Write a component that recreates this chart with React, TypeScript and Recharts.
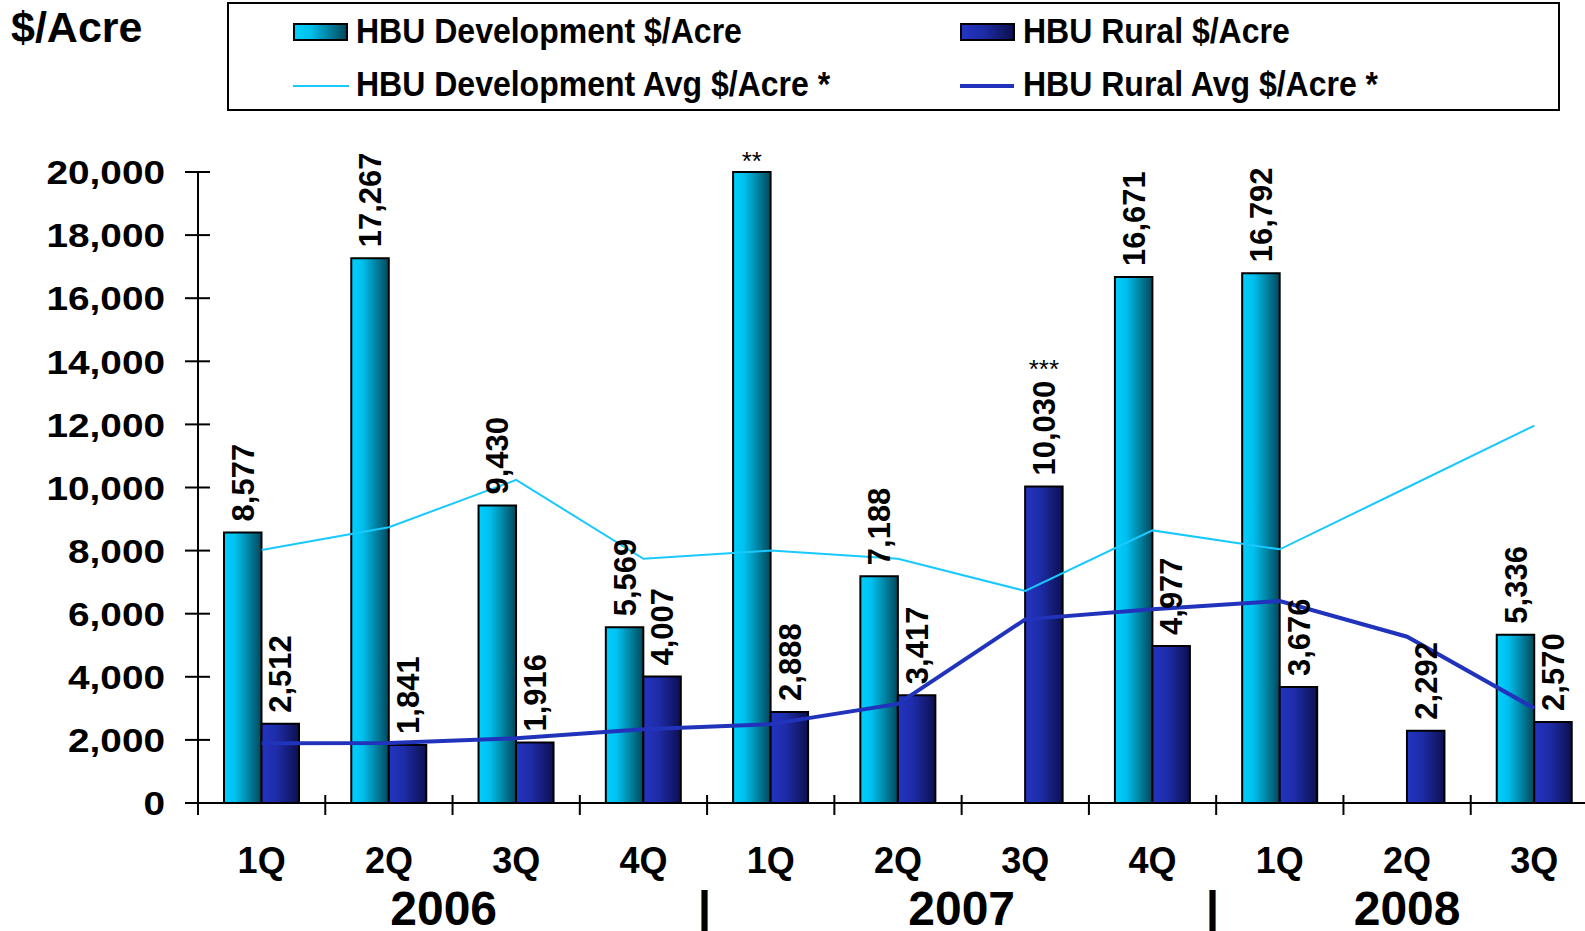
import { Bar, ComposedChart, LabelList, Line, XAxis, YAxis } from 'recharts'

const quarters = ['1Q', '2Q', '3Q', '4Q', '1Q', '2Q', '3Q', '4Q', '1Q', '2Q', '3Q']
const devPerAcre = [8577, 17267, 9430, 5569, 20000, 7188, null, 16671, 16792, null, 5336]
const ruralPerAcre = [2512, 1841, 1916, 4007, 2888, 3417, 10030, 4977, 3676, 2292, 2570]
const devAvgPerAcre = [8020, 8740, 10240, 7740, 8000, 7740, 6720, 8640, 8040, 10000, 11960]
const ruralAvgPerAcre = [1890, 1900, 2050, 2340, 2500, 3140, 5820, 6140, 6400, 5270, 3000]
// footnote marks printed above a bar ("**" replaces the value of the capped bar)
const devNotes = ['', '', '', '', '**', '', '', '', '', '', '']
const ruralNotes = ['', '', '', '', '', '', '***', '', '', '', '']
const yearLabels = ['2006', '|', '2007', '|', '2008']
const yTicks = [0, 2000, 4000, 6000, 8000, 10000, 12000, 14000, 16000, 18000, 20000]

// where each year label sits, in category units (index + fraction of band)
const yearSlots = [1.43, 3.48, 5.5, 7.47, 9]

const FONT = "'Liberation Sans', Arial, Helvetica, sans-serif"
const CHART_W = 1612
const CHART_H = 931
const MARGIN = { top: 172, right: 14, bottom: 0, left: 0 }
const Y_AXIS_W = 198
const BAND_HALF = (CHART_W - MARGIN.right - MARGIN.left - Y_AXIS_W) / quarters.length / 2

const data = quarters.map((quarter, i) => ({
  quarter,
  dev: devPerAcre[i],
  rural: ruralPerAcre[i],
  devAvg: devAvgPerAcre[i],
  ruralAvg: ruralAvgPerAcre[i],
}))

const numberFormatter = new Intl.NumberFormat('en-US')

const LABEL_SIZE = 31
function textEm(s: string) {
  let em = 0
  for (const ch of s) em += ch === ',' ? 0.278 : 0.556
  return em
}

function makeBarLabel(notes: string[], noteReplacesValue: boolean) {
  return function BarLabel(props: any) {
    const { x, y, width, value, index } = props
    if (value == null) return null
    const cx = Number(x) + Number(width) / 2
    const top = Number(y)
    const note = notes[index] ?? ''
    if (note && noteReplacesValue) {
      return (
        <text x={cx} y={top - 2} textAnchor="middle" fontSize={26} fontFamily={FONT} fill="#000">
          {note}
        </text>
      )
    }
    const text = numberFormatter.format(Number(value))
    const start = top - 11
    const len = textEm(text) * LABEL_SIZE
    return (
      <g>
        <text
          transform={`translate(${cx},${start}) rotate(-90)`}
          dy="0.36em"
          textAnchor="start"
          fontSize={LABEL_SIZE}
          fontWeight="bold"
          fontFamily={FONT}
          fill="#000"
        >
          {text}
        </text>
        {note ? (
          <text x={cx} y={start - len - 3} textAnchor="middle" fontSize={26} fontFamily={FONT} fill="#000">
            {note}
          </text>
        ) : null}
      </g>
    )
  }
}

function YTick(props: any) {
  const { x, y, payload } = props
  return (
    <g>
      <line x1={x - 13} x2={x + 12} y1={y} y2={y} stroke="#000" strokeWidth={2} />
      <text
        transform={`translate(${x - 33},${y}) scale(1.14,1)`}
        dy="0.36em"
        textAnchor="end"
        fontSize={34}
        fontWeight="bold"
        fontFamily={FONT}
        fill="#000"
      >
        {numberFormatter.format(payload.value)}
      </text>
    </g>
  )
}

function XTick(props: any) {
  const { x, y, payload, index } = props
  const half = payload?.offset || BAND_HALF
  const isLast = index === quarters.length - 1
  return (
    <g>
      <line x1={x - half} x2={x - half} y1={y - 8} y2={y + 12} stroke="#000" strokeWidth={2} />
      {isLast ? <line x1={x + half} x2={x + half} y1={y - 8} y2={y + 12} stroke="#000" strokeWidth={2} /> : null}
      <text x={x} y={y + 70} textAnchor="middle" fontSize={36} fontWeight="bold" fontFamily={FONT} fill="#000">
        {payload.value}
      </text>
      {yearSlots.map((slot, i) =>
        Math.floor(slot) === index ? (
          <text
            key={i}
            x={x + (slot - index) * 2 * half}
            y={y + 122}
            textAnchor="middle"
            fontSize={48}
            fontWeight="bold"
            fontFamily={FONT}
            fill="#000"
          >
            {yearLabels[i]}
          </text>
        ) : null,
      )}
    </g>
  )
}

const devGradient = 'linear-gradient(to right, #00CFFF 0%, #00C0EE 30%, #00485A 100%)'
const ruralGradient = 'linear-gradient(to right, #2235C2 0%, #1E2CA8 40%, #0C1050 100%)'

function LegendBox() {
  const text: React.CSSProperties = {
    position: 'absolute',
    fontSize: 32,
    fontWeight: 'bold',
    fontFamily: FONT,
    lineHeight: '32px',
    whiteSpace: 'nowrap',
    color: '#000',
    transform: 'scaleY(1.08)',
    transformOrigin: 'left center',
  }
  const swatch: React.CSSProperties = {
    position: 'absolute',
    width: 55,
    height: 18,
    border: '2px solid #000',
    boxSizing: 'border-box',
  }
  return (
    <div
      style={{
        position: 'absolute',
        left: 227,
        top: 2,
        width: 1333,
        height: 109,
        border: '2px solid #000',
        boxSizing: 'border-box',
        background: '#fff',
      }}
    >
      <div style={{ ...swatch, left: 64, top: 19, background: devGradient }} />
      <div style={{ ...text, left: 127, top: 11 }}>HBU Development $/Acre</div>
      <div style={{ ...swatch, left: 731, top: 19, background: ruralGradient }} />
      <div style={{ ...text, left: 794, top: 11 }}>HBU Rural $/Acre</div>
      <div style={{ position: 'absolute', left: 64, top: 81, width: 56, height: 2, background: '#19C8FF' }} />
      <div style={{ ...text, left: 127, top: 64 }}>HBU Development Avg $/Acre *</div>
      <div style={{ position: 'absolute', left: 731, top: 80, width: 54, height: 4, background: '#2233BB' }} />
      <div style={{ ...text, left: 794, top: 64 }}>HBU Rural Avg $/Acre *</div>
    </div>
  )
}

export default function App() {
  return (
    <div
      style={{
        position: 'fixed',
        left: 0,
        top: 0,
        width: 1585,
        height: 931,
        overflow: 'hidden',
        background: '#fff',
        fontFamily: FONT,
      }}
    >
      <div
        style={{
          position: 'absolute',
          left: 11,
          top: 4,
          fontSize: 43,
          fontWeight: 'bold',
          lineHeight: '46px',
          fontFamily: FONT,
          color: '#000',
        }}
      >
        $/Acre
      </div>
      <LegendBox />
      <ComposedChart width={CHART_W} height={CHART_H} data={data} margin={MARGIN} barGap={0} barSize={37.5}>
        <defs>
          <linearGradient id="devGrad" x1="0" y1="0" x2="1" y2="0">
            <stop offset="0%" stopColor="#00CFFF" />
            <stop offset="30%" stopColor="#00C0EE" />
            <stop offset="100%" stopColor="#00485A" />
          </linearGradient>
          <linearGradient id="ruralGrad" x1="0" y1="0" x2="1" y2="0">
            <stop offset="0%" stopColor="#2235C2" />
            <stop offset="40%" stopColor="#1E2CA8" />
            <stop offset="100%" stopColor="#0C1050" />
          </linearGradient>
        </defs>
        <XAxis
          dataKey="quarter"
          interval={0}
          height={128}
          axisLine={{ stroke: '#000', strokeWidth: 2 }}
          tickLine={false}
          tickSize={0}
          tickMargin={0}
          tick={<XTick />}
        />
        <YAxis
          width={Y_AXIS_W}
          domain={[0, 20000]}
          ticks={yTicks}
          interval={0}
          axisLine={{ stroke: '#000', strokeWidth: 2 }}
          tickLine={false}
          tickSize={0}
          tickMargin={0}
          tick={<YTick />}
        />
        <Bar dataKey="dev" fill="url(#devGrad)" stroke="#000" strokeWidth={2} isAnimationActive={false}>
          <LabelList dataKey="dev" content={makeBarLabel(devNotes, true)} />
        </Bar>
        <Bar dataKey="rural" fill="url(#ruralGrad)" stroke="#000" strokeWidth={2} isAnimationActive={false}>
          <LabelList dataKey="rural" content={makeBarLabel(ruralNotes, false)} />
        </Bar>
        <Line
          dataKey="devAvg"
          type="linear"
          stroke="#19C8FF"
          strokeWidth={2}
          dot={false}
          activeDot={false}
          isAnimationActive={false}
        />
        <Line
          dataKey="ruralAvg"
          type="linear"
          stroke="#2233BB"
          strokeWidth={4}
          dot={false}
          activeDot={false}
          isAnimationActive={false}
        />
      </ComposedChart>
    </div>
  )
}
